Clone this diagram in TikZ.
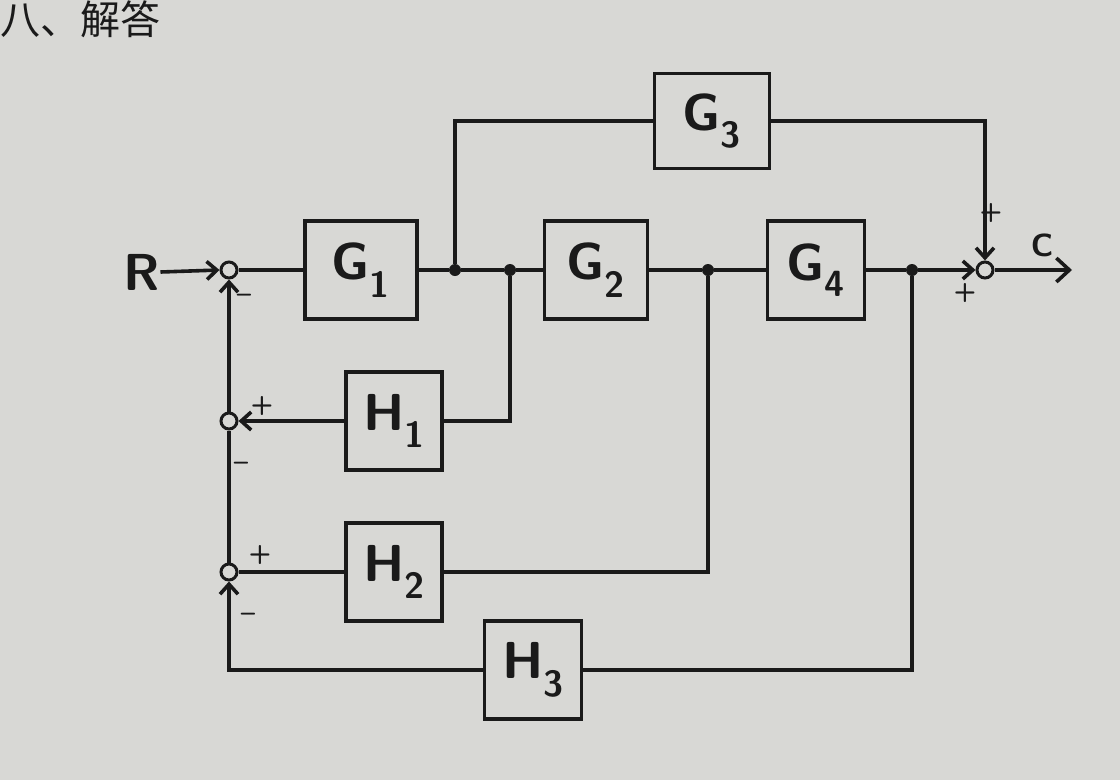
\documentclass[tikz,border=0pt]{standalone}
\usepackage{fontspec}
\newfontfamily\cjkfont{Noto Sans CJK SC}
\usetikzlibrary{arrows.meta, positioning}
\definecolor{paper}{HTML}{D8D8D5}
\definecolor{ink}{HTML}{1A1A1A}
\newcommand{\blockfont}{\sffamily\bfseries\fontsize{52}{56}\selectfont}
\newcommand{\signfont}{\sffamily\bfseries\fontsize{26}{28}\selectfont}
\tikzset{
  blk/.style={draw=ink, line width=3.6pt, minimum height=98pt, inner sep=0pt,
    font=\blockfont, text=ink},
  sumnode/.style={circle, draw=ink, line width=3pt, minimum size=16pt,
    inner sep=0pt, fill=paper},
  tap/.style={circle, fill=ink, minimum size=12pt, inner sep=0pt},
  wire/.style={draw=ink, line width=3.6pt},
  sig/.style={wire, -{Straight Barb[length=10pt, width=18pt]}},
  signlbl/.style={font=\signfont, text=ink, inner sep=0pt},
}

\begin{document}
\begin{tikzpicture}[x=1pt, y=-1pt]
  % page 1120 x 780, y grows downward
  \fill[paper] (0,0) rectangle (1120,780);
  \useasboundingbox (0,0) rectangle (1120,780);

  % ===== heading =====
  \node[font=\cjkfont\fontsize{40}{42}\selectfont, text=ink, anchor=base west, inner sep=0pt]
       (head) at (0,34) {八、解答};

  % ===== forward path =====
  \node[font=\blockfont, text=ink, inner sep=0pt] (R) at (142,272) {R};
  \node[sumnode] (s1) at (229,270) {};
  \node[blk, minimum width=112pt] (G1) at (361,270) {G\textsubscript{1}};
  \node[tap] (d1) at (455,270) {};
  \node[tap] (d2) at (510,270) {};
  \node[blk, minimum width=103pt] (G2) at (596,270) {G\textsubscript{2}};
  \node[tap] (d3) at (708,270) {};
  \node[blk, minimum width=97pt] (G4) at (816,270) {G\textsubscript{4}};
  \node[tap] (d4) at (912,270) {};
  \node[sumnode] (s4) at (985,270) {};
  \coordinate (out) at (1072,270);
  \node[font=\sffamily\bfseries\fontsize{32}{34}\selectfont, text=ink] (C) at (1042,245) {C};

  % ===== parallel branch =====
  \node[blk, minimum width=115pt, minimum height=95pt] (G3) at (712,121) {G\textsubscript{3}};

  % ===== feedback blocks and junctions =====
  \node[sumnode] (s2) at (229,421) {};
  \node[sumnode] (s3) at (229,572) {};
  \node[blk, minimum width=96pt] (H1) at (394,421) {H\textsubscript{1}};
  \node[blk, minimum width=96pt] (H2) at (394,572) {H\textsubscript{2}};
  \node[blk, minimum width=97pt] (H3) at (533,670) {H\textsubscript{3}};

  % ===== connectors =====
  \draw[sig] (R.east) -- (s1.west);
  \draw[wire] (s1.east) -- (G1.west);
  \draw[wire] (G1.east) -- (d1) -- (d2) -- (G2.west);
  \draw[wire] (G2.east) -- (d3) -- (G4.west);
  \draw[sig] (G4.east) -- (d4) -- (s4.west);
  \draw[wire, -{Straight Barb[length=13pt, width=24pt]}] (s4.east) -- (out);
  \draw[wire] (d1) |- (G3.west);
  \draw[sig] (G3.east) -| (s4.north);
  \draw[wire] (d2) |- (H1.east);
  \draw[sig] (H1.west) -- (s2.east);
  \draw[wire] (d3) |- (H2.east);
  \draw[wire] (H2.west) -- (s3.east);
  \draw[wire] (d4) |- (H3.east);
  \draw[sig] (H3.west) -| (s3.south);
  \draw[wire] (s3.north) -- (s2.south);
  \draw[sig] (s2.north) -- (s1.south);

  % ===== signs =====
  \node[signlbl] (m1) at (244,298) {–};
  \node[signlbl] (p2) at (262,406) {+};
  \node[signlbl] (m2) at (241,466) {–};
  \node[signlbl] (p3) at (260,555) {+};
  \node[signlbl] (m3) at (248,617) {–};
  \node[signlbl] (p4) at (991,213) {+};
  \node[signlbl] (p5) at (965,293) {+};
\end{tikzpicture}
\end{document}
